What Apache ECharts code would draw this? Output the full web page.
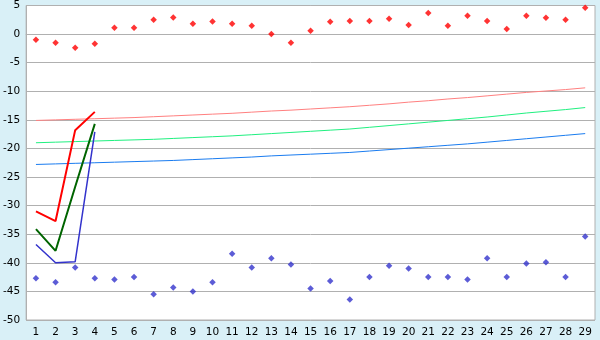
<!DOCTYPE html>
<html>
<head>
<meta charset="utf-8">
<script src="https://cdn.jsdelivr.net/npm/echarts@6/dist/echarts.min.js"></script>
<style>html,body{margin:0;padding:0;background:#d9f0f7;}#c{width:600px;height:340px;}</style>
</head>
<body>
<div id="c"></div>
<script>
const categories = ['1','2','3','4','5','6','7','8','9','10','11','12','13','14','15','16','17','18','19','20','21','22','23','24','25','26','27','28','29'];
const redPoints = [-1.0,-1.5,-2.4,-1.7,1.1,1.1,2.5,2.9,1.8,2.2,1.8,1.45,0.0,-1.5,0.6,2.15,2.3,2.3,2.67,1.6,3.7,1.45,3.2,2.3,0.9,3.2,2.85,2.5,4.6];
const bluePoints = [-42.7,-43.4,-40.8,-42.7,-42.9,-42.5,-45.5,-44.3,-45.0,-43.4,-38.4,-40.8,-39.2,-40.3,-44.5,-43.2,-46.4,-42.5,-40.5,-41.0,-42.5,-42.5,-42.9,-39.2,-42.5,-40.1,-39.9,-42.5,-35.4];
const redLine = [-31.0,-32.7,-16.8,-13.6];
const greenLine = [-34.1,-37.9,-26.7,-15.7];
const blueLine = [-36.8,-40.0,-39.8,-17.1];
const pinkTrend = [-15.1,-15.0,-14.9,-14.8,-14.7,-14.6,-14.45,-14.3,-14.15,-14.0,-13.85,-13.65,-13.45,-13.3,-13.1,-12.9,-12.7,-12.45,-12.2,-11.9,-11.65,-11.35,-11.1,-10.8,-10.5,-10.2,-9.95,-9.7,-9.4];
const greenTrend = [-19.0,-18.9,-18.8,-18.7,-18.6,-18.5,-18.4,-18.25,-18.1,-17.95,-17.8,-17.6,-17.4,-17.2,-17.0,-16.8,-16.6,-16.3,-16.0,-15.7,-15.4,-15.1,-14.8,-14.5,-14.15,-13.8,-13.5,-13.2,-12.85];
const blueTrend = [-22.8,-22.7,-22.6,-22.5,-22.4,-22.3,-22.2,-22.1,-21.95,-21.8,-21.65,-21.5,-21.3,-21.15,-21.0,-20.85,-20.7,-20.45,-20.2,-19.95,-19.7,-19.45,-19.2,-18.9,-18.6,-18.3,-18.0,-17.7,-17.4];

const chart = echarts.init(document.getElementById('c'), null, {renderer:'canvas'});
function lineS(data, color, width, z){
  return {type:'line', data:data, symbol:'none', lineStyle:{color:color, width:width}, itemStyle:{color:color}, z:z, animation:false, silent:true};
}
function scat(data, color){
  return {type:'scatter', data:data, symbol:'diamond', symbolSize:6.5, itemStyle:{color:color}, z:5, animation:false, silent:true};
}
chart.setOption({
  backgroundColor:'#d9f0f7',
  animation:false,
  grid:{left:26, right:5, top:5, bottom:20, show:true, backgroundColor:'#ffffff', borderColor:'#b0b0b0', borderWidth:1},
  xAxis:{type:'category', data:categories, boundaryGap:true,
    axisLine:{lineStyle:{color:'#b0b0b0'}},
    axisTick:{alignWithLabel:true, length:5, lineStyle:{color:'#333'}},
    axisLabel:{color:'#000', fontFamily:'DejaVu Sans', fontSize:10.5, margin:7, interval:0},
    splitLine:{show:false}},
  yAxis:{type:'value', min:-50, max:5, interval:5,
    axisLine:{show:true, lineStyle:{color:'#b0b0b0'}},
    axisTick:{show:false},
    axisLabel:{color:'#000', fontFamily:'DejaVu Sans', fontSize:10.5, margin:6},
    splitLine:{lineStyle:{color:'#b0b0b0', width:1}}},
  series:[
    lineS(pinkTrend,'#ff8080',1,2),
    lineS(greenTrend,'#20f080',1,2),
    lineS(blueTrend,'#1a7cf0',1,2),
    lineS(redLine,'#ff0000',2,3),
    lineS(greenLine,'#006400',2,3),
    lineS(blueLine,'#3333cc',1.5,3),
    scat(redPoints,'#ff0000'),
    scat(bluePoints,'#3333cc')
  ]
});
</script>
</body>
</html>
